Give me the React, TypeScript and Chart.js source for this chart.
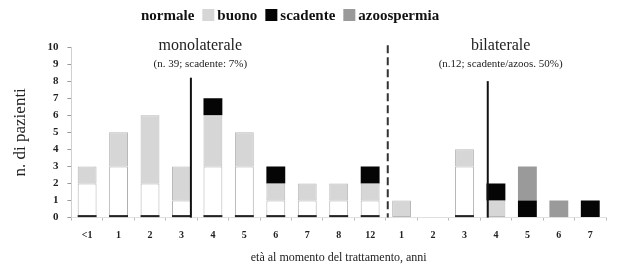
import React, { useEffect, useRef } from "react";
import { Chart, registerables } from "chart.js";

Chart.register(...registerables);

const categories = ["<1", "1", "2", "3", "4", "5", "6", "7", "8", "12", "1", "2", "3", "4", "5", "6", "7"];
const normale = [2, 3, 2, 1, 3, 3, 1, 1, 1, 1, 0, 0, 3, 0, 0, 0, 0];
const buono = [1, 2, 4, 2, 3, 2, 1, 1, 1, 1, 1, 0, 1, 1, 0, 0, 0];
const scadente = [0, 0, 0, 0, 1, 0, 1, 0, 0, 1, 0, 0, 0, 1, 1, 0, 1];
const azoospermia = [0, 0, 0, 0, 0, 0, 0, 0, 0, 0, 0, 0, 0, 0, 2, 1, 0];
const yTicks = [0, 1, 2, 3, 4, 5, 6, 7, 8, 9, 10];

// reference lines: [x position in category units, top value, dashed]
const dividerX = [3.3, 9.56, 12.74];
const dividerTop = [8.2, 10.1, 8.0];
const dividerDashed = [false, true, false];

const groupTitles = ["monolaterale", "bilaterale"];
const groupSubtitles = ["(n. 39; scadente: 7%)", "(n.12; scadente/azoos. 50%)"];
const groupTitleX = [3.6, 13.15];

const SERIF = "'Liberation Serif', 'Times New Roman', serif";

const legendPlugin = {
  id: "customLegend",
  afterDraw(chart: any) {
    const ctx = chart.ctx;
    ctx.save();
    ctx.font = `bold 15px ${SERIF}`;
    ctx.textAlign = "left";
    ctx.textBaseline = "middle";
    let x = 118;
    const y = 7;
    chart.data.datasets.forEach((ds: any) => {
      ctx.fillStyle = ds.backgroundColor;
      ctx.fillRect(x, y - 6, 12, 12);
      x += 15;
      ctx.fillStyle = "#111";
      ctx.fillText(ds.label, x, y + 1);
      x += ctx.measureText(ds.label).width + 8;
    });
    ctx.restore();
  },
};

const overlayPlugin = {
  id: "overlay",
  afterDatasetsDraw(chart: any) {
    const ctx = chart.ctx;
    const xs = chart.scales.x;
    const ys = chart.scales.y;
    // dark bottom edge for "normale" bars
    const meta = chart.getDatasetMeta(0);
    ctx.save();
    meta.data.forEach((el: any, i: number) => {
      if (normale[i] > 0) {
        const w = el.width;
        ctx.strokeStyle = "#222";
        ctx.lineWidth = 2;
        ctx.beginPath();
        ctx.moveTo(el.x - w / 2, el.base - 1);
        ctx.lineTo(el.x + w / 2, el.base - 1);
        ctx.stroke();
      }
    });
    // divider lines
    dividerX.forEach((v, i) => {
      const x = xs.getPixelForValue(v);
      ctx.strokeStyle = dividerDashed[i] ? "#333" : "#111";
      ctx.lineWidth = 2;
      ctx.setLineDash(dividerDashed[i] ? [8, 4] : []);
      ctx.beginPath();
      ctx.moveTo(x, ys.getPixelForValue(dividerTop[i]));
      ctx.lineTo(x, ys.getPixelForValue(0));
      ctx.stroke();
    });
    ctx.setLineDash([]);
    // group titles
    ctx.fillStyle = "#222";
    ctx.textAlign = "center";
    ctx.textBaseline = "middle";
    groupTitles.forEach((t, i) => {
      const x = xs.getPixelForValue(groupTitleX[i]);
      ctx.font = `16px ${SERIF}`;
      ctx.fillText(t, x, ys.getPixelForValue(10.05));
      ctx.font = `11px ${SERIF}`;
      ctx.fillText(groupSubtitles[i], x, ys.getPixelForValue(9.0));
    });
    ctx.restore();
  },
};

export default function App() {
  const ref = useRef<HTMLCanvasElement | null>(null);
  useEffect(() => {
    if (!ref.current) return;
    const chart = new Chart(ref.current, {
      type: "bar",
      data: {
        labels: categories,
        datasets: [
          {
            label: "normale",
            data: normale,
            backgroundColor: "#ffffff",
            borderColor: "#b0b0b0",
            borderWidth: 1,
            borderSkipped: false,
          },
          {
            label: "buono",
            data: buono,
            backgroundColor: "#d6d6d6",
            borderColor: "#b8b8b8",
            borderWidth: 1,
            borderSkipped: false,
          },
          {
            label: "scadente",
            data: scadente,
            backgroundColor: "#050505",
            borderWidth: 0,
          },
          {
            label: "azoospermia",
            data: azoospermia,
            backgroundColor: "#9a9a9a",
            borderWidth: 0,
          },
        ],
      },
      options: {
        animation: false,
        responsive: true,
        maintainAspectRatio: false,
        layout: { padding: { top: 39, right: 3, left: 2, bottom: 0 } },
        datasets: { bar: { categoryPercentage: 1, barPercentage: 0.6 } },
        plugins: {
          legend: { display: false },
          tooltip: { enabled: false },
        },
        scales: {
          x: {
            stacked: true,
            grid: { display: true, drawOnChartArea: false, drawTicks: true, tickLength: 3, color: "#bbb", offset: true },
            border: { display: true, color: "#e0e0e0" },
            ticks: { font: { family: SERIF, size: 10, weight: "bold" }, color: "#222", padding: 9, autoSkip: false, maxRotation: 0 },
            title: {
              display: true,
              text: "età al momento del trattamento, anni",
              font: { family: SERIF, size: 12 },
              color: "#222",
              padding: { top: 0, bottom: 0 },
            },
          },
          y: {
            stacked: true,
            min: 0,
            max: 10,
            afterBuildTicks: (axis: any) => {
              axis.ticks = yTicks.map((v) => ({ value: v }));
            },
            grid: { display: true, drawOnChartArea: false, drawTicks: true, tickLength: 4, color: "#999" },
            border: { display: true, color: "#d0d0d0" },
            ticks: { font: { family: SERIF, size: 11, weight: "bold" }, color: "#222", padding: 9 },
            title: {
              display: true,
              text: "n. di pazienti",
              font: { family: SERIF, size: 17 },
              color: "#222",
              padding: { top: 0, bottom: 8 },
            },
          },
        },
      },
      plugins: [overlayPlugin, legendPlugin],
    });
    return () => chart.destroy();
  }, []);
  return (
    <div style={{ width: 601, height: 257, position: "relative" }}>
      <canvas ref={ref} />
    </div>
  );
}
